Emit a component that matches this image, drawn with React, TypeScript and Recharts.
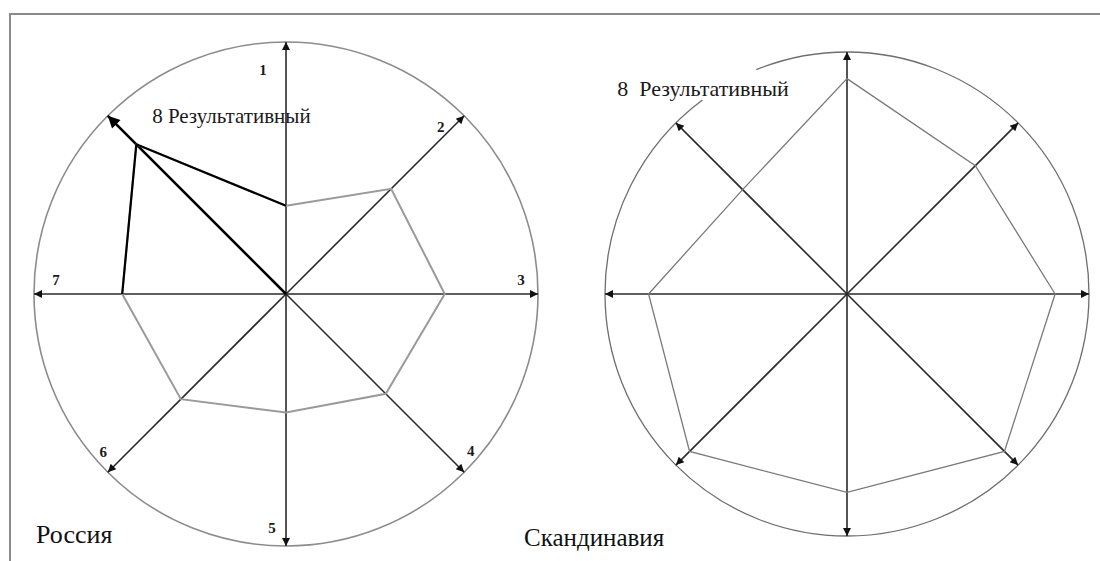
import { RadarChart, Radar, PolarGrid, PolarAngleAxis, PolarRadiusAxis } from 'recharts';

/* ───────── Data ───────── */

const AXES = ['1', '2', '3', '4', '5', '6', '7', '8'];
const RUSSIA = [0.35, 0.59, 0.63, 0.56, 0.47, 0.59, 0.65, 0.84];
const SCANDINAVIA = [0.89, 0.75, 0.86, 0.92, 0.82, 0.92, 0.82, 0.61];
const RUSSIA_LABELS = ['1', '2', '3', '4', '5', '6', '7', '8 Результативный'];
const SCAND_LABELS = ['', '', '', '', '', '', '', '8  Результативный'];

const data = AXES.map((axis, i) => ({ axis, russia: RUSSIA[i], scand: SCANDINAVIA[i] }));

/* ───────── Label placement (relative to tick point) ───────── */

const RU_OFFSETS: [number, number, string][] = [
  [-23, 36, 'middle'], [-29, 17, 'middle'], [-25, -14, 'middle'], [1, -27, 'middle'],
  [-14, -26, 'middle'], [1, -26, 'middle'], [30, -14, 'middle'], [50, 6, 'start'],
];
const SC_OFFSETS: [number, number, string][] = [
  [0, 0, 'middle'], [0, 0, 'middle'], [0, 0, 'middle'], [0, 0, 'middle'],
  [0, 0, 'middle'], [0, 0, 'middle'], [0, 0, 'middle'], [-53, -29, 'start'],
];

const SERIF = '"Liberation Serif", "Times New Roman", serif';

function makeTick(labels: string[], offsets: [number, number, string][], bigSize: number) {
  return (props: any) => {
    const i = props.index ?? 0;
    const text = labels[i];
    if (!text) return <g />;
    const [dx, dy, anchor] = offsets[i];
    const big = text.length > 2;
    return (
      <text
        x={props.x + dx}
        y={props.y + dy}
        textAnchor={anchor}
        dominantBaseline="central"
        fontFamily={SERIF}
        fontSize={big ? bigSize : 15}
        fontWeight={big ? 400 : 700}
        fill="#1a1a1a"
        style={{ whiteSpace: 'pre' }}
      >
        {text}
      </text>
    );
  };
}

/* black edges 7 → 8 → 1 on the Russian polygon */
function AccentShape(props: any) {
  const pts = props.points || [];
  if (pts.length < 8) return <g />;
  const seq = [pts[6], pts[7], pts[0]];
  return (
    <polyline
      points={seq.map((p: any) => `${p.x},${p.y}`).join(' ')}
      fill="none"
      stroke="#000"
      strokeWidth={2.2}
      strokeLinejoin="miter"
    />
  );
}

const CSS = `
body { margin: 0; }
.radar .recharts-polar-grid-angle line { stroke: #2a2a2a; stroke-width: 1.6; marker-end: url(#arrowHead); }
.radar-ru .recharts-polar-grid-angle line:nth-child(8) { stroke: #000; stroke-width: 2.6; marker-end: url(#arrowHeadBig); }
.radar .recharts-polar-grid-concentric circle, .radar .recharts-polar-grid-concentric path { stroke: #8c8c8c; stroke-width: 1.6; fill: none; }
.radar-sc .recharts-polar-grid-concentric circle { stroke: #6e6e6e; stroke-width: 1.3; stroke-dasharray: 985 62 480; }
`;

export default function App() {
  return (
    <div style={{ position: 'relative', width: 1100, height: 561, background: '#fff', overflow: 'hidden' }}>
      <style>{CSS}</style>
      <svg width={0} height={0} style={{ position: 'absolute' }}>
        <defs>
          <marker id="arrowHead" viewBox="0 0 10 10" refX={10} refY={5} markerWidth={10} markerHeight={8}
            orient="auto" markerUnits="userSpaceOnUse">
            <path d="M0,0 L10,5 L0,10 z" fill="#111" />
          </marker>
          <marker id="arrowHeadBig" viewBox="0 0 10 10" refX={10} refY={5} markerWidth={15} markerHeight={12}
            orient="auto" markerUnits="userSpaceOnUse">
            <path d="M0,0 L10,5 L0,10 z" fill="#000" />
          </marker>
        </defs>
      </svg>

      {/* frame */}
      <div style={{
        position: 'absolute', left: 9, top: 13, width: 1091, height: 548,
        borderTop: '2px solid #8a8a8a', borderLeft: '2px solid #8a8a8a', boxSizing: 'border-box',
      }} />

      {/* Россия */}
      <div className="radar radar-ru" style={{ position: 'absolute', left: 0, top: 0 }}>
        <RadarChart width={572} height={561} data={data} cx={286} cy={294} outerRadius={252}
          startAngle={90} endAngle={-270} margin={{ top: 0, right: 0, bottom: 0, left: 0 }}>
          <PolarGrid gridType="circle" polarRadius={[252]} />
          <PolarRadiusAxis domain={[0, 1]} tick={false} axisLine={false} />
          <PolarAngleAxis dataKey="axis" tickLine={false} axisLine={false}
            tick={makeTick(RUSSIA_LABELS, RU_OFFSETS, 21)} />
          <Radar dataKey="russia" stroke="#9a9a9a" strokeWidth={2} fill="none" fillOpacity={0}
            dot={false} isAnimationActive={false} />
          <Radar dataKey="russia" shape={AccentShape} dot={false} isAnimationActive={false} />
        </RadarChart>
      </div>

      {/* Скандинавия */}
      <div className="radar radar-sc" style={{ position: 'absolute', left: 560, top: 0 }}>
        <RadarChart width={540} height={561} data={data} cx={287} cy={294} outerRadius={242}
          startAngle={90} endAngle={-270} margin={{ top: 0, right: 0, bottom: 0, left: 0 }}>
          <PolarGrid gridType="circle" polarRadius={[242]} />
          <PolarRadiusAxis domain={[0, 1]} tick={false} axisLine={false} />
          <PolarAngleAxis dataKey="axis" tickLine={false} axisLine={false}
            tick={makeTick(SCAND_LABELS, SC_OFFSETS, 22)} />
          <Radar dataKey="scand" stroke="#7a7a7a" strokeWidth={1.3} fill="none" fillOpacity={0}
            dot={false} isAnimationActive={false} />
        </RadarChart>
      </div>

      <div style={{ position: 'absolute', left: 36, top: 522, fontFamily: SERIF, fontSize: 26, lineHeight: '25px', color: '#111' }}>
        Россия
      </div>
      <div style={{ position: 'absolute', left: 524, top: 525, fontFamily: SERIF, fontSize: 25, lineHeight: '25px', color: '#111' }}>
        Скандинавия
      </div>
    </div>
  );
}
